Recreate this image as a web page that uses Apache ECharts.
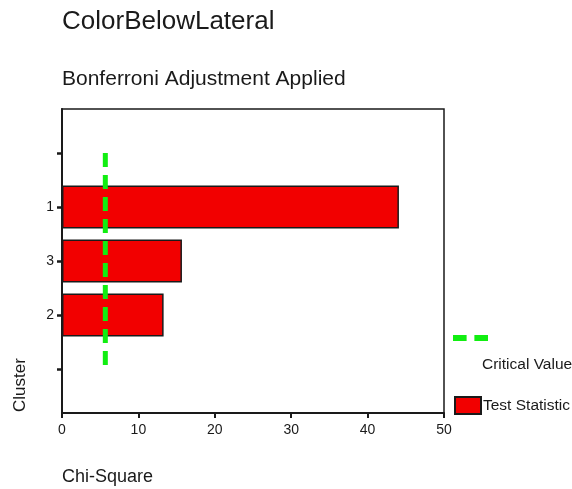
<!DOCTYPE html>
<html>
<head>
<meta charset="utf-8">
<script src="https://cdn.jsdelivr.net/npm/echarts@6/dist/echarts.min.js"></script>
<style>
  html, body { margin: 0; padding: 0; background: #fff; }
  #chart { width: 572px; height: 489px; }
</style>
</head>
<body>
<div id="chart"></div>
<script>
// clusters from top to bottom (empty ones are padding slots in the original)
const clusters = ['', '1', '3', '2', '']
const testStatistic = [null, 44.1, 15.7, 13.3, null]
const criticalValue = [5.67, 5.67, 5.67, 5.67, 5.67]
const xTicks = [0, 10, 20, 30, 40, 50]

const font = 'Liberation Sans, Arial, sans-serif'
const ink = '#1a1a1a'

const chart = echarts.init(document.getElementById('chart'))

const option = {
    animation: false,
    textStyle: { fontFamily: font },
    title: {
        left: 62,
        top: 9,
        text: 'ColorBelowLateral',
        subtext: 'Bonferroni Adjustment Applied',
        itemGap: 34,
        padding: 0,
        textStyle: { fontSize: 26, fontWeight: 'normal', color: ink, fontFamily: font },
        subtextStyle: { fontSize: 21, color: ink, fontFamily: font }
    },
    legend: [
        {
            data: [{ name: 'Critical Value', icon: 'path://M0,0H14V6H0Z M22,0H36V6H22Z' }],
            left: 453,
            top: 302,
            padding: 0,
            itemWidth: 35,
            itemHeight: 6,
            selectedMode: false,
            formatter: name => '\n\n\n' + name,
            textStyle: { fontSize: 15.5, lineHeight: 18, color: ink, padding: [0, 0, 0, -11] }
        },
        {
            data: [{ name: 'Test Statistic', icon: 'rect' }],
            left: 454,
            top: 396,
            padding: 0,
            itemWidth: 26,
            itemHeight: 17,
            selectedMode: false,
            textStyle: { fontSize: 15.5, color: ink, padding: [0, 0, 0, -3] }
        }
    ],
    grid: [
        // outer frame
        { left: 62, right: 128, top: 109, bottom: 76, show: true, borderColor: ink, borderWidth: 1.5 },
        // inner area where the cluster ticks live
        { left: 62, right: 128, top: 153, bottom: 120 }
    ],
    xAxis: [
        {
            gridIndex: 0,
            type: 'value',
            min: xTicks[0],
            max: xTicks[xTicks.length - 1],
            interval: 10,
            axisLine: { show: true, lineStyle: { color: ink, width: 2 } },
            axisTick: { show: true, length: 5, lineStyle: { color: ink, width: 2 } },
            axisLabel: { fontSize: 14, color: ink, margin: 10 },
            splitLine: { show: false }
        },
        {
            gridIndex: 1,
            type: 'value',
            min: xTicks[0],
            max: xTicks[xTicks.length - 1],
            show: false
        }
    ],
    yAxis: [
        {
            gridIndex: 0,
            type: 'value',
            axisLine: { show: true, lineStyle: { color: ink, width: 2 } },
            axisTick: { show: false },
            axisLabel: { show: false },
            splitLine: { show: false }
        },
        {
            gridIndex: 1,
            type: 'category',
            inverse: true,
            boundaryGap: false,
            data: clusters,
            axisLine: { show: false },
            axisTick: { show: true, length: 5, lineStyle: { color: ink, width: 2.5 } },
            axisLabel: { fontSize: 14, color: ink, margin: 8 },
            splitLine: { show: false }
        }
    ],
    graphic: [
        {
            type: 'text',
            x: 12,
            y: 412,
            rotation: Math.PI / 2,
            style: { text: 'Cluster', font: '17px ' + font, fill: ink }
        },
        {
            type: 'text',
            x: 62,
            y: 468,
            style: { text: 'Chi-Square', font: '18px ' + font, fill: ink }
        }
    ],
    series: [
        {
            name: 'Test Statistic',
            type: 'bar',
            xAxisIndex: 1,
            yAxisIndex: 1,
            barWidth: 43,
            data: testStatistic,
            itemStyle: { color: '#f20000', borderColor: ink, borderWidth: 1.5 }
        },
        {
            name: 'Critical Value',
            type: 'line',
            xAxisIndex: 1,
            yAxisIndex: 1,
            symbol: 'none',
            data: criticalValue,
            itemStyle: { color: '#11ee11' },
            lineStyle: { color: '#11ee11', width: 5, type: [14, 8] },
            z: 3
        }
    ]
}

chart.setOption(option)
</script>
</body>
</html>
